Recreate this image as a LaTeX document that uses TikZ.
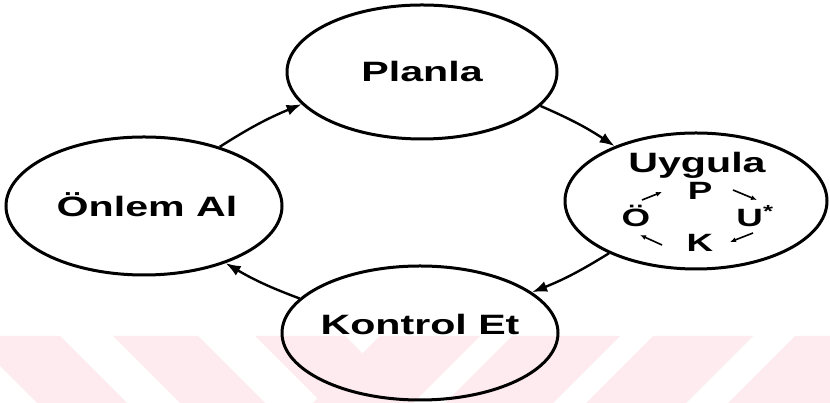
\documentclass[tikz,border=0pt]{standalone}
\usepackage{fontspec}
\usetikzlibrary{arrows.meta,shapes.geometric}
\newfontfamily\lblfont[FakeStretch=1.47]{Liberation Sans}
\definecolor{stripepink}{RGB}{253,235,239}
\begin{document}
\begin{tikzpicture}[x=1pt,y=1pt,
  phase/.style={ellipse,draw=black,line width=3pt,inner sep=0pt},
  lbl/.style={font=\lblfont\bfseries\fontsize{28}{30}\selectfont,anchor=base},
  sublbl/.style={font=\lblfont\bfseries\fontsize{25}{27}\selectfont,anchor=base},
  cyc/.style={line width=2.4pt,-{Latex[length=15pt,width=11pt]},bend left=5},
  subcyc/.style={line width=1.6pt,-{Latex[length=6pt,width=5pt]}}]
\useasboundingbox (0,0) rectangle (830,403);
\fill[white] (0,0) rectangle (830,403);

% watermark band along the bottom edge
\begin{scope}
\clip (0,0) rectangle (830,67);
\fill[stripepink] (-30,67) -- (60,67) -- (127,0) -- (37,0) -- cycle;
\fill[stripepink] (113,67) -- (198,67) -- (265,0) -- (180,0) -- cycle;
\fill[stripepink] (255,67) -- (345,67) -- (412,0) -- (322,0) -- cycle;
\fill[stripepink] (380,67) -- (480,67) -- (413,0) -- (313,0) -- cycle;
\fill[stripepink] (512,67) -- (620,67) -- (553,0) -- (445,0) -- cycle;
\fill[stripepink] (653,67) -- (753,67) -- (686,0) -- (586,0) -- cycle;
\fill[stripepink] (795,67) -- (900,67) -- (833,0) -- (728,0) -- cycle;
\end{scope}

% the four phases
\node[phase,minimum width=270pt,minimum height=134pt] (pl) at (422,331) {};
\node[phase,minimum width=262pt,minimum height=136pt] (uy) at (696,202) {};
\node[phase,minimum width=276pt,minimum height=134pt] (ko) at (420,70) {};
\node[phase,minimum width=276pt,minimum height=138pt] (on) at (144,197) {};

\node[lbl] (tpl) at (422,321) {Planla};
\node[lbl] (tuy) at (697,230) {Uygula};
\node[lbl] (tko) at (420,68) {Kontrol Et};
\node[lbl] (ton) at (147,186) {Önlem Al};

% main cycle
\draw[cyc] (pl.-16) to (uy.146);
\draw[cyc] (uy.211) to (ko.20);
\draw[cyc] (ko.164) to (on.-35);
\draw[cyc] (on.38) to (pl.195);

% inner cycle inside the second phase
\node[sublbl] (sp) at (700,203) {P};
\node[sublbl] (su) at (755,176) {U\textsuperscript{*}};
\node[sublbl] (sk) at (700,151) {K};
\node[sublbl] (so) at (636,176) {Ö};
\coordinate (a1) at (733,213); \coordinate (b1) at (757,203);
\coordinate (a2) at (753,170); \coordinate (b2) at (730,161);
\coordinate (a3) at (662,158); \coordinate (b3) at (640,168);
\coordinate (a4) at (642,203); \coordinate (b4) at (662,211);
\draw[subcyc] (a1) -- (b1);
\draw[subcyc] (a2) -- (b2);
\draw[subcyc] (a3) -- (b3);
\draw[subcyc] (a4) -- (b4);
\end{tikzpicture}
\end{document}
